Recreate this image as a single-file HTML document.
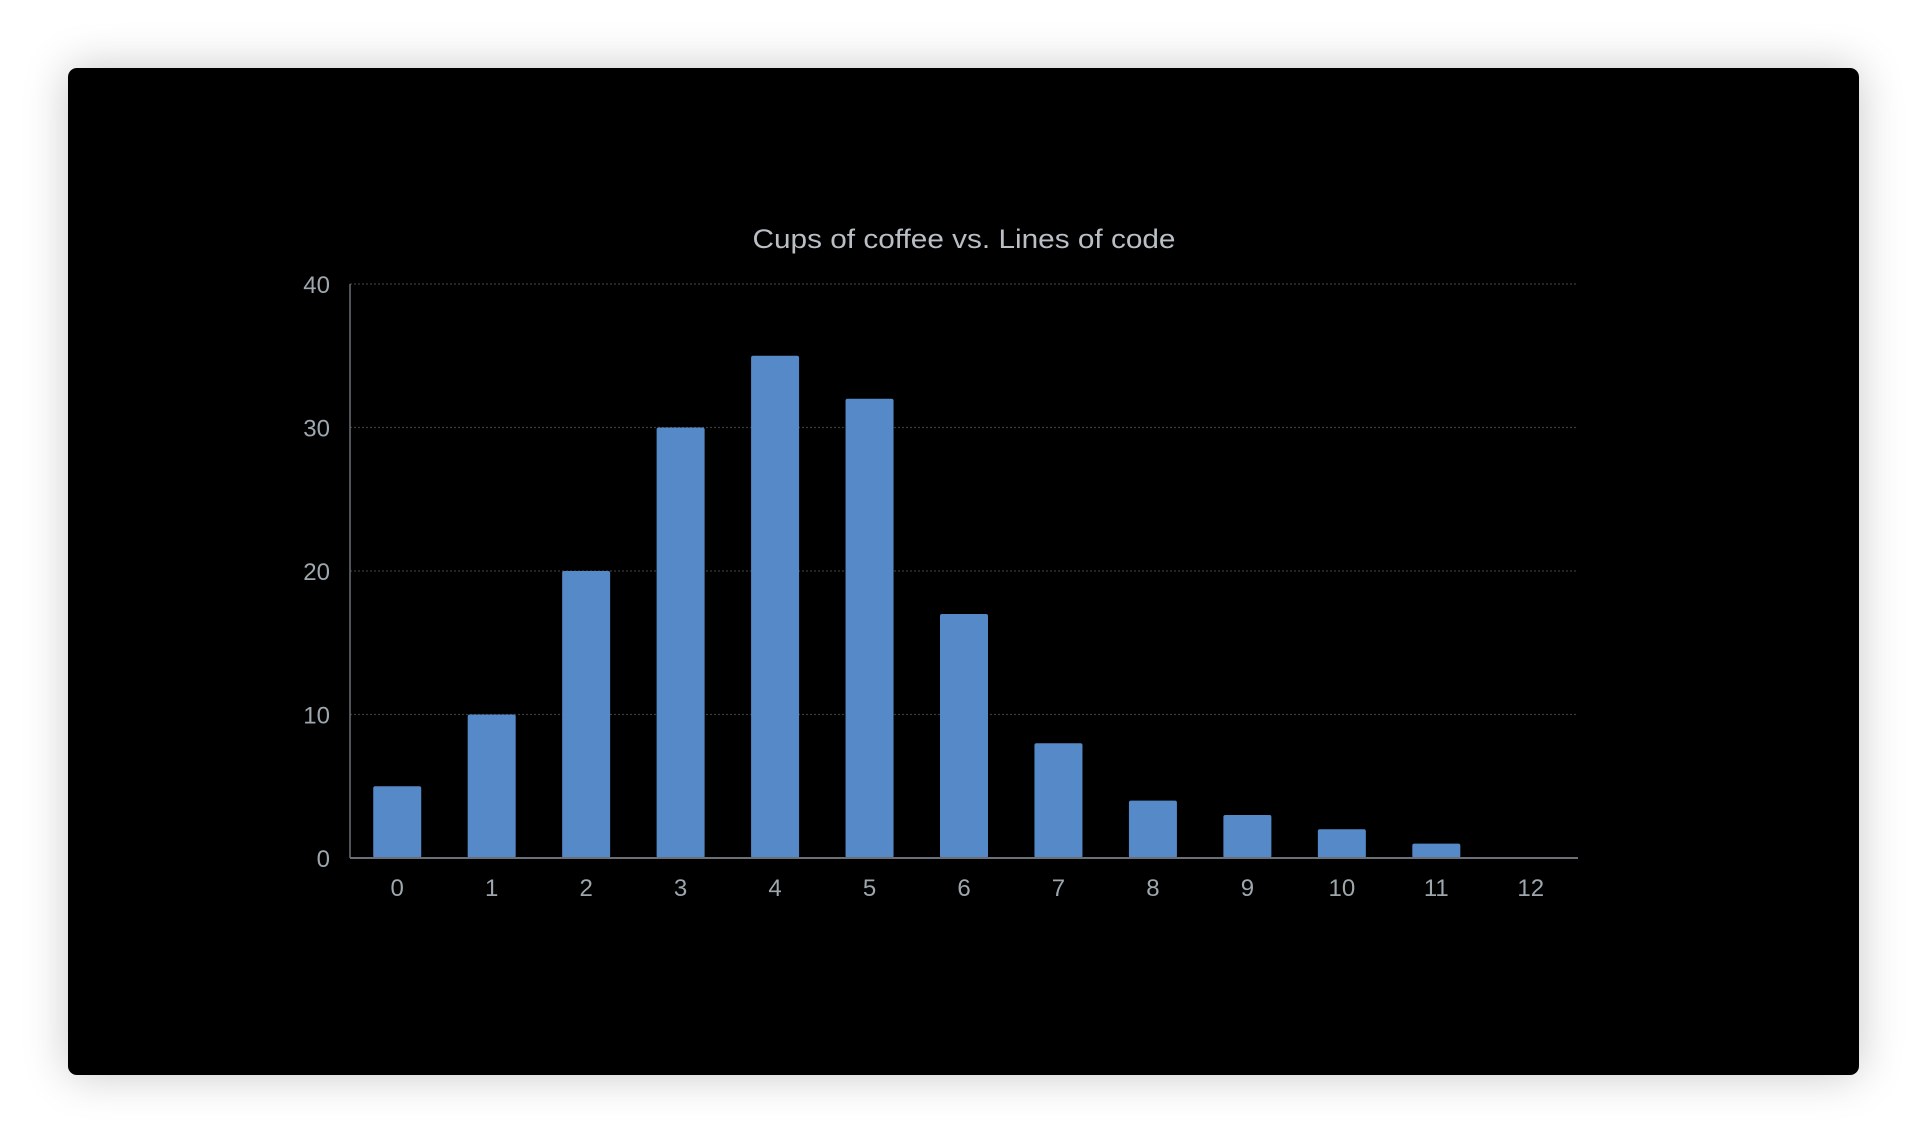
<!DOCTYPE html>
<html><head><meta charset="utf-8">
<style>
html,body{margin:0;padding:0;width:1928px;height:1144px;background:#fff;overflow:hidden}
#card{position:absolute;left:68px;top:68px;width:1791px;height:1007px;background:#000;border-radius:9px;box-shadow:0 0 45px rgba(0,0,0,0.22)}
svg{position:absolute;left:0;top:0}
text{font-family:"Liberation Sans",sans-serif}
</style></head>
<body>
<div id="card"></div>
<svg id="chart" width="1928" height="1144">
<text x="964" y="248" text-anchor="middle" font-size="27" fill="#b9bfc5" textLength="423" lengthAdjust="spacingAndGlyphs">Cups of coffee vs. Lines of code</text>
</svg>
<script>
const categories = ["0","1","2","3","4","5","6","7","8","9","10","11","12"];
const values = [5,10,20,30,35,32,17,8,4,3,2,1,0];
const yTicks = [0,10,20,30,40];
const yTickLabels = ["0","10","20","30","40"];

const svg = document.getElementById('chart');
const NS = 'http://www.w3.org/2000/svg';
const plotL = 350, plotR = 1578, plotT = 284, plotB = 858, yMax = 40;
const band = (plotR - plotL) / categories.length;
const barW = 48;
function xScale(i){ return plotL + band * (i + 0.5); }
function yScale(v){ return plotB - (v / yMax) * (plotB - plotT); }
function mk(tag, attrs){ const e = document.createElementNS(NS, tag); for (const k in attrs) e.setAttribute(k, attrs[k]); svg.appendChild(e); return e; }

yTicks.forEach((t, i) => {
  if (t > 0) {
    const g = mk('line', {x1: plotL, x2: plotR, y1: yScale(t), y2: yScale(t), stroke: '#3a3a3a', 'stroke-width': 1.2, 'stroke-dasharray': '2,2'});
    
    
  }
  const lb = mk('text', {x: 330, y: yScale(t) + 9, 'text-anchor': 'end', 'font-size': 24, fill: '#9ea7ad'});
  lb.textContent = yTickLabels[i];
  
  
});

values.forEach((v, i) => {
  if (v > 0) {
    const r = mk('rect', {x: xScale(i) - barW / 2, y: yScale(v), width: barW, height: plotB - yScale(v), fill: '#5589c8', rx: 2});
    
    
  }
  const t = mk('text', {x: xScale(i), y: 896, 'text-anchor': 'middle', 'font-size': 24, fill: '#9ea7ad'});
  t.textContent = categories[i];
  
  
});

const ya = mk('line', {x1: plotL, x2: plotL, y1: plotT, y2: plotB, stroke: '#6a7075', 'stroke-width': 1.5});


const xa = mk('line', {x1: plotL, x2: plotR, y1: plotB, y2: plotB, stroke: '#6a7075', 'stroke-width': 2});


</script>
</body></html>
